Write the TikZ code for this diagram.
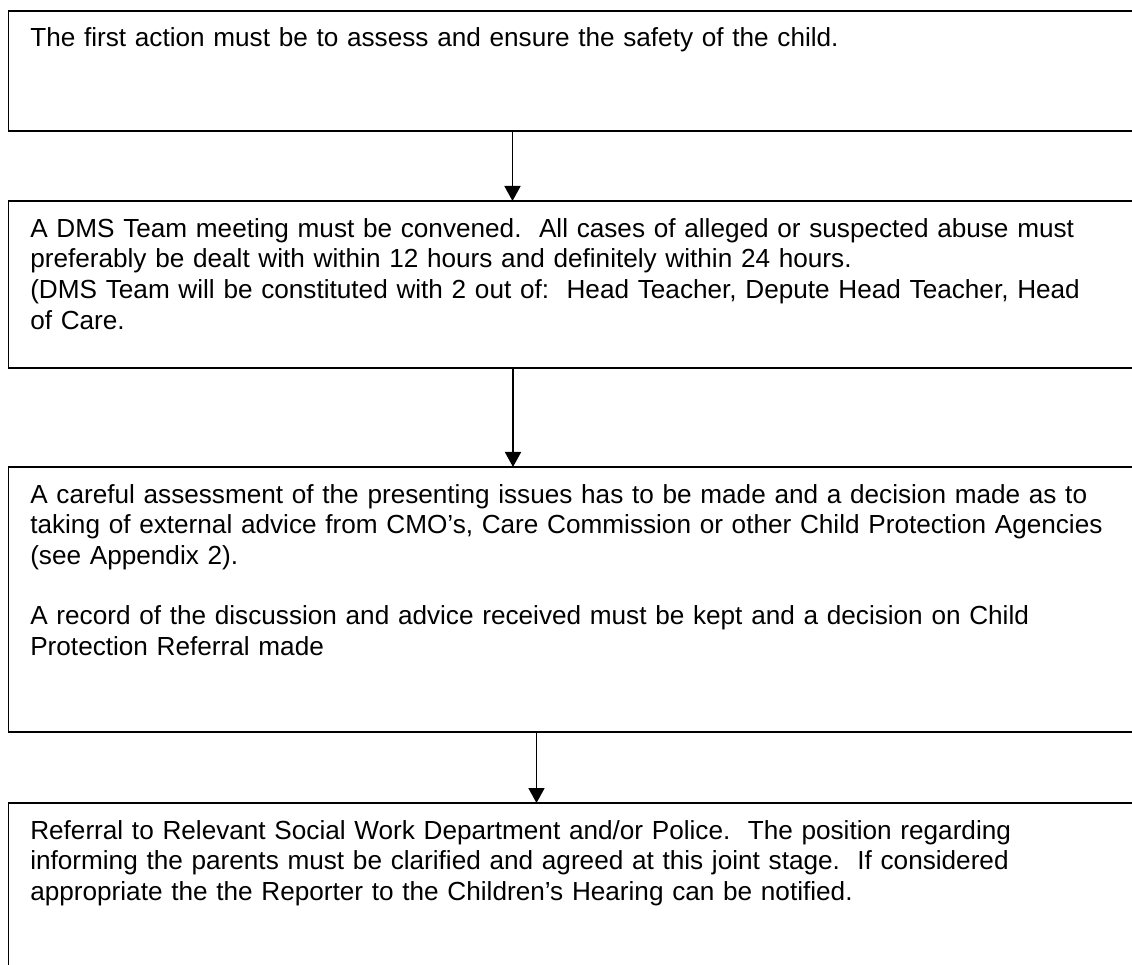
\documentclass[tikz,border=0pt]{standalone}
\usepackage{fontspec}
\setmainfont{Liberation Sans}
\usetikzlibrary{calc,arrows.meta}
\newcommand{\boxwidth}{28.3cm}
\newcommand{\thickness}{1.1pt}
\newcommand{\inset}{21.5}
\newcommand{\firstline}{36}

\begin{document}
\begin{tikzpicture}[x=0.025cm,y=-0.025cm,
  stepbox/.style={draw,line width=\thickness,inner sep=0,outer sep=0,anchor=north west,minimum width=\boxwidth},
  steptext/.style={anchor=base west,inner sep=0,text width=27.5cm,align=left,font=\fontsize{18.6pt}{22pt}\selectfont},
  flow/.style={line width=1.3pt,-{Triangle[length=0.375cm,width=0.4cm]}}]
\useasboundingbox (0,0) rectangle (1132,965);
\clip (0,0) rectangle (1132,965);
%boxes
\node[stepbox,minimum height=3cm] (b1) at (8.5,11) {};
\node[stepbox,minimum height=4.175cm] (b2) at (8.5,201) {};
\node[stepbox,minimum height=6.625cm] (b3) at (8.5,467) {};
\node[stepbox,minimum height=5cm] (b4) at (8.5,803) {};
%texts
\node[steptext] (t1) at ($(b1.north west)+(\inset,\firstline)$) {The first action must be to assess and ensure the safety of the child.};
\node[steptext] (t2) at ($(b2.north west)+(\inset,\firstline)$) {A DMS Team meeting must be convened.\ \ All cases of alleged or suspected abuse must\\
preferably be dealt with within 12 hours and definitely within 24 hours.\\
(DMS Team will be constituted with 2 out of:\ \ Head Teacher, Depute Head Teacher, Head\\
of Care.};
\node[steptext] (t3) at ($(b3.north west)+(\inset,\firstline)$) {A careful assessment of the presenting issues has to be made and a decision made as to\\
taking of external advice from CMO’s, Care Commission or other Child Protection Agencies\\
(see Appendix 2).\\[0.72cm]
A record of the discussion and advice received must be kept and a decision on Child\\
Protection Referral made};
\node[steptext] (t4) at ($(b4.north west)+(\inset,\firstline)$) {Referral to Relevant Social Work Department and/or Police.\ \ The position regarding\\
informing the parents must be clarified and agreed at this joint stage.\ \ If considered\\
appropriate the the Reporter to the Children’s Hearing can be notified.};
%arrows
\draw[flow] ($(b1.south west)+(504,0)$) -- ($(b2.north west)+(504,0)$);
\draw[flow] ($(b2.south west)+(504.5,0)$) -- ($(b3.north west)+(504.5,0)$);
\draw[flow] ($(b3.south west)+(528,0)$) -- ($(b4.north west)+(528,0)$);
\end{tikzpicture}
\end{document}
